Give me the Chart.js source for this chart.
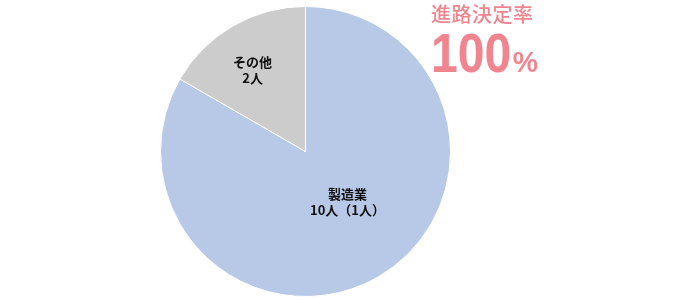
<!DOCTYPE html>
<html>
<head>
<meta charset="utf-8">
<script src="https://cdn.jsdelivr.net/npm/chart.js@4"></script>
<style>
  html, body { margin: 0; padding: 0; background: #fff; }
  #wrap { position: relative; width: 700px; height: 300px; }
  #rateTitle {
    position: absolute; left: 431px; top: 4px;
    font-family: "Noto Sans CJK JP", sans-serif; font-size: 20px; line-height: 20px;
    letter-spacing: 0.5px; color: #f0858f; font-weight: 500; white-space: nowrap;
  }
  #rateValue {
    position: absolute; left: 431px; top: 25px;
    font-family: "Liberation Sans", Arial, sans-serif;
    font-weight: bold; font-size: 56px; line-height: 1; color: #f0858f;
    white-space: nowrap; transform: scaleX(0.86); transform-origin: left top;
  }
  #rateValue .pct {
    display: inline-block; font-size: 30px; margin-left: 2px;
    transform: scaleX(1.1); transform-origin: left bottom;
  }
</style>
</head>
<body>
<div id="wrap">
  <canvas id="pieChart" width="700" height="300"></canvas>
  <div id="rateTitle">進路決定率</div>
  <div id="rateValue">100<span class="pct">%</span></div>
</div>
<script>
const categories = ['製造業', 'その他'];
const people = [10, 2];
const labelLines = [['製造業', '10人（1人）'], ['その他', '2人']];
const sliceColors = ['#b8c9e8', '#cccccc'];

// where each label sits inside its slice: fraction of radius, angle nudge in degrees
const labelSpots = [{ r: 0.455, nudge: -9.5 }, { r: 0.67, nudge: -3 }];

const sliceLabels = {
  id: 'sliceLabels',
  afterDatasetsDraw(chart) {
    const ctx = chart.ctx;
    const arcs = chart.getDatasetMeta(0).data;
    ctx.save();
    ctx.font = 'bold 13px "Noto Sans CJK JP", sans-serif';
    ctx.fillStyle = '#111';
    ctx.textAlign = 'center';
    ctx.textBaseline = 'middle';
    arcs.forEach((arc, i) => {
      const spot = labelSpots[i];
      const mid = (arc.startAngle + arc.endAngle) / 2 + spot.nudge * Math.PI / 180;
      const x = arc.x + Math.cos(mid) * arc.outerRadius * spot.r;
      const y = arc.y + Math.sin(mid) * arc.outerRadius * spot.r;
      const lines = labelLines[i];
      const lh = 16;
      lines.forEach((t, j) => {
        ctx.fillText(t, x, y + (j - (lines.length - 1) / 2) * lh);
      });
    });
    ctx.restore();
  }
};

new Chart(document.getElementById('pieChart'), {
  type: 'pie',
  data: {
    labels: categories,
    datasets: [{
      data: people,
      backgroundColor: sliceColors,
      borderColor: '#ffffff',
      borderWidth: 1
    }]
  },
  options: {
    responsive: false,
    animation: false,
    layout: { padding: { top: 6, bottom: 3, left: 0, right: 89 } },
    plugins: {
      legend: { display: false },
      tooltip: { enabled: false }
    }
  },
  plugins: [sliceLabels]
});
</script>
</body>
</html>
